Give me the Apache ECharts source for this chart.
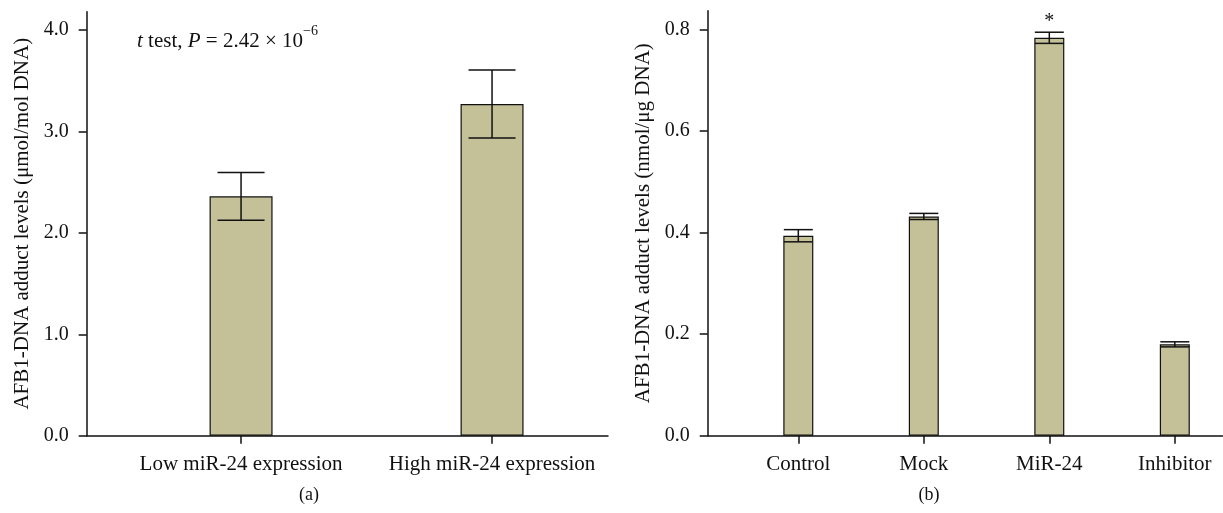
<!DOCTYPE html>
<html><head><meta charset="utf-8">
<script src="https://cdn.jsdelivr.net/npm/echarts@6/dist/echarts.min.js"></script>
<style>html,body{margin:0;padding:0;background:#fff}#c{width:1223px;height:513px}</style>
</head><body><div id="c"></div>
<script>
// Panel (a)
const catsA = ['Low miR-24 expression', 'High miR-24 expression'];
const meanA = [2.36, 3.27];
const errA = [0.235, 0.335];
const ticksA = [0, 1, 2, 3, 4];
// Panel (b)
const catsB = ['Control', 'Mock', 'MiR-24', 'Inhibitor'];
const meanB = [0.394, 0.432, 0.784, 0.180];
const errB = [0.012, 0.006, 0.011, 0.005];
const ticksB = [0, 0.2, 0.4, 0.6, 0.8];
const starB = ['', '', '*', ''];

const FONT = 'Liberation Serif';
const INK = '#111';
const BAR = '#c4c097';

function errRender(capW) {
  return function (params, api) {
    const x = api.value(0), lo = api.value(1), hi = api.value(2);
    const a = api.coord([x, lo]), b = api.coord([x, hi]);
    const st = { stroke: INK, lineWidth: 1.5, fill: null };
    return { type: 'group', children: [
      { type: 'line', shape: { x1: a[0], y1: a[1], x2: b[0], y2: b[1] }, style: st },
      { type: 'line', shape: { x1: b[0] - capW / 2, y1: b[1], x2: b[0] + capW / 2, y2: b[1] }, style: st },
      { type: 'line', shape: { x1: a[0] - capW / 2, y1: a[1], x2: a[0] + capW / 2, y2: a[1] }, style: st }
    ]};
  };
}

function xAxisFor(gridIndex, cats, min, max) {
  const pos = cats.map((c, i) => i + 1);
  return {
    type: 'value', gridIndex, min, max,
    splitLine: { show: false },
    axisLine: { show: true, onZero: false, lineStyle: { color: INK, width: 1.5 } },
    axisTick: { show: true, customValues: pos, length: 8, lineStyle: { color: INK, width: 1.5 } },
    axisLabel: { show: true, customValues: pos, margin: 18, color: INK, fontFamily: FONT, fontSize: 21,
      formatter: v => cats[Math.round(v) - 1] || '' }
  };
}
function yAxisFor(gridIndex, ticks, max, name, dec) {
  return {
    type: 'value', gridIndex, min: 0, max,
    name, nameLocation: 'middle', nameGap: 54, nameRotate: 90,
    nameTextStyle: { color: INK, fontFamily: FONT, fontSize: 21 },
    splitLine: { show: false },
    axisLine: { show: true, lineStyle: { color: INK, width: 1.5 } },
    axisTick: { show: true, customValues: ticks, length: 8, lineStyle: { color: INK, width: 1.5 } },
    axisLabel: { show: true, customValues: ticks, margin: 18, color: INK, fontFamily: FONT, fontSize: 20,
      formatter: v => v.toFixed(dec) }
  };
}

const option = {
  animation: false,
  backgroundColor: '#fff',
  grid: [
    { left: 86.7, right: 1223 - 608, top: 11.7, bottom: 513 - 435.7 },
    { left: 707.7, right: 0.5, top: 10.7, bottom: 513 - 435.7 }
  ],
  xAxis: [ xAxisFor(0, catsA, 0.385, 2.462), xAxisFor(1, catsB, 0.278, 4.38) ],
  yAxis: [
    yAxisFor(0, ticksA, 4.181, 'AFB1-DNA adduct levels (\u03bcmol/mol DNA)', 1),
    yAxisFor(1, ticksB, 0.8374, 'AFB1-DNA adduct levels (nmol/\u03bcg DNA)', 1)
  ],
  series: [
    { type: 'bar', xAxisIndex: 0, yAxisIndex: 0, barWidth: 63,
      itemStyle: { color: BAR, borderColor: INK, borderWidth: 1.2 },
      data: meanA.map((v, i) => [i + 1, v]) },
    { type: 'custom', xAxisIndex: 0, yAxisIndex: 0, z: 5, renderItem: errRender(47),
      encode: { x: 0, y: [1, 2] },
      data: meanA.map((v, i) => [i + 1, v - errA[i], v + errA[i]]) },
    { type: 'bar', xAxisIndex: 1, yAxisIndex: 1, barWidth: 30,
      itemStyle: { color: BAR, borderColor: INK, borderWidth: 1.2 },
      data: meanB.map((v, i) => ({ value: [i + 1, v],
        label: { show: starB[i] !== '', position: 'top', distance: 6, formatter: starB[i],
          color: INK, fontFamily: FONT, fontSize: 20 } })) },
    { type: 'custom', xAxisIndex: 1, yAxisIndex: 1, z: 5, renderItem: errRender(29),
      encode: { x: 0, y: [1, 2] },
      data: meanB.map((v, i) => [i + 1, v - errB[i], v + errB[i]]) }
  ],
  graphic: [
    { type: 'text', left: 137, top: 24, style: {
        text: '{i|t}{n| test, }{i|P}{n| = 2.42 \u00d7 10}{s|\u22126}',
        fill: INK,
        rich: {
          n: { fontFamily: FONT, fontSize: 21, verticalAlign: 'bottom', lineHeight: 28, color: INK },
          i: { fontStyle: 'italic', fontFamily: FONT, fontSize: 21, verticalAlign: 'bottom', lineHeight: 28, color: INK },
          s: { fontFamily: FONT, fontSize: 14, verticalAlign: 'top', lineHeight: 28, color: INK }
        } } },
    { type: 'text', x: 309, y: 495, style: { text: '(a)', fill: INK, font: '18px "Liberation Serif"', align: 'center', verticalAlign: 'middle' } },
    { type: 'text', x: 929, y: 495, style: { text: '(b)', fill: INK, font: '18px "Liberation Serif"', align: 'center', verticalAlign: 'middle' } }
  ]
};
const chart = echarts.init(document.getElementById('c'), null, { renderer: 'canvas' });
chart.setOption(option);
</script>
</body></html>
